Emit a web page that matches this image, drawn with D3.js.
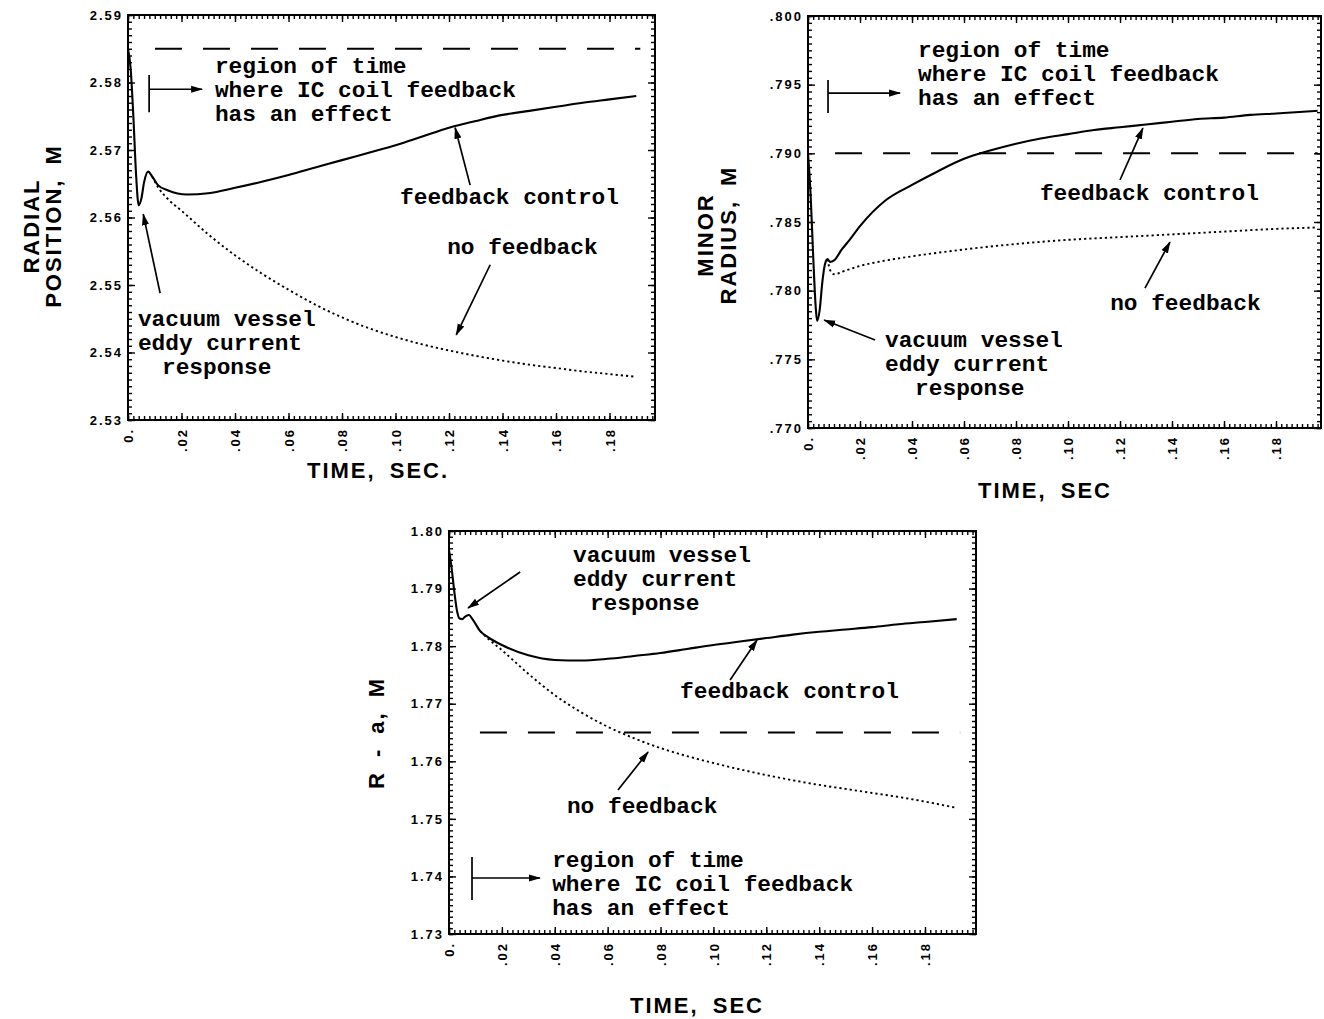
<!DOCTYPE html>
<html>
<head>
<meta charset="utf-8">
<script src="https://cdn.jsdelivr.net/npm/d3@7"></script>
<style>
  body { margin: 0; background: #fff; }
  svg { display: block; }
  .ann { font-family: "Liberation Mono", "Courier New", monospace; font-size: 22.8px; font-weight: bold; fill: #000; }
  .ttl { font-family: "Liberation Sans", Arial, sans-serif; font-weight: bold; font-size: 22px; fill: #000; letter-spacing: 2px; word-spacing: 6px; }
  .tick text { font-family: "Liberation Sans", Arial, sans-serif; font-size: 13px; font-weight: bold; fill: #000; letter-spacing: 2px; }
  .tick line { stroke: #000; stroke-width: 1.4; }
</style>
</head>
<body>
<svg id="chart" width="1324" height="1019"></svg>
<script>
// ---- shared tick labels ----
const xTickValues = [0, 0.02, 0.04, 0.06, 0.08, 0.10, 0.12, 0.14, 0.16, 0.18];
const xTickLabels = ["0.", ".02", ".04", ".06", ".08", ".10", ".12", ".14", ".16", ".18"];

// ---- radial position, M ----
const radialTicks = [2.53, 2.54, 2.55, 2.56, 2.57, 2.58, 2.59];
const radialLabels = ["2.53", "2.54", "2.55", "2.56", "2.57", "2.58", "2.59"];
const radialTarget = 2.585;
const radialFbTime = [0, 0.001, 0.002, 0.003, 0.004, 0.005, 0.006, 0.0075, 0.009, 0.0112, 0.015, 0.022, 0.03, 0.04, 0.05, 0.06, 0.07, 0.08, 0.09, 0.10, 0.11, 0.12, 0.13, 0.14, 0.15, 0.16, 0.17, 0.18, 0.19];
const radialFb = [2.585, 2.582, 2.575, 2.5665, 2.5618, 2.5628, 2.5652, 2.5668, 2.5661, 2.5648, 2.5640, 2.5634, 2.5636, 2.5644, 2.5653, 2.5663, 2.5674, 2.5685, 2.5696, 2.5707, 2.5720, 2.5733, 2.5743, 2.5752, 2.5758, 2.5764, 2.5770, 2.5775, 2.5780];
const radialNoFbTime = [0.009, 0.0112, 0.015, 0.02, 0.03, 0.04, 0.05, 0.06, 0.07, 0.08, 0.09, 0.10, 0.11, 0.12, 0.13, 0.14, 0.15, 0.16, 0.17, 0.18, 0.19];
const radialNoFb = [2.5661, 2.5645, 2.5627, 2.5610, 2.5575, 2.5544, 2.5517, 2.5493, 2.5471, 2.5452, 2.5436, 2.5423, 2.5412, 2.5403, 2.5395, 2.5388, 2.5382, 2.5377, 2.5372, 2.5368, 2.5364];

// ---- minor radius, M ----
const minorTicks = [0.770, 0.775, 0.780, 0.785, 0.790, 0.795, 0.800];
const minorLabels = [".770", ".775", ".780", ".785", ".790", ".795", ".800"];
const minorTarget = 0.790;
const minorFbTime = [0, 0.001, 0.002, 0.003, 0.0035, 0.0045, 0.0055, 0.0065, 0.0075, 0.0085, 0.010, 0.013, 0.016, 0.02, 0.03, 0.04, 0.05, 0.06, 0.07, 0.08, 0.09, 0.10, 0.11, 0.12, 0.13, 0.14, 0.15, 0.16, 0.17, 0.18, 0.196];
const minorFb = [0.7900, 0.7870, 0.7825, 0.7787, 0.7778, 0.7786, 0.7806, 0.7819, 0.7823, 0.7821, 0.7822, 0.7830, 0.7837, 0.7847, 0.7866, 0.7877, 0.7887, 0.7896, 0.7902, 0.7907, 0.7911, 0.7914, 0.7917, 0.7919, 0.7921, 0.7923, 0.7925, 0.7926, 0.7928, 0.7929, 0.7931];
const minorNoFbTime = [0.0075, 0.0085, 0.010, 0.015, 0.02, 0.03, 0.04, 0.06, 0.08, 0.10, 0.12, 0.14, 0.16, 0.18, 0.196];
const minorNoFb = [0.7823, 0.7815, 0.7812, 0.7815, 0.7818, 0.7822, 0.7825, 0.7830, 0.7834, 0.7837, 0.7839, 0.7841, 0.7843, 0.7845, 0.7846];

// ---- R - a, M ----
const innerTicks = [1.73, 1.74, 1.75, 1.76, 1.77, 1.78, 1.79, 1.80];
const innerLabels = ["1.73", "1.74", "1.75", "1.76", "1.77", "1.78", "1.79", "1.80"];
const innerTarget = 1.765;
const innerFbTime = [0, 0.001, 0.002, 0.003, 0.004, 0.005, 0.006, 0.0075, 0.009, 0.0118, 0.015, 0.02, 0.03, 0.04, 0.05, 0.06, 0.07, 0.08, 0.09, 0.10, 0.11, 0.12, 0.13, 0.14, 0.15, 0.16, 0.17, 0.18, 0.192];
const innerFb = [1.7967, 1.7935, 1.7895, 1.7862, 1.7848, 1.7847, 1.7851, 1.7854, 1.7846, 1.7826, 1.7815, 1.7802, 1.7784, 1.7776, 1.7775, 1.7778, 1.7783, 1.7788, 1.7795, 1.7802, 1.7808, 1.7814, 1.7820, 1.7825, 1.7829, 1.7833, 1.7838, 1.7842, 1.7847];
const innerNoFbTime = [0.0118, 0.015, 0.02, 0.03, 0.04, 0.05, 0.06, 0.07, 0.08, 0.09, 0.10, 0.11, 0.12, 0.13, 0.14, 0.15, 0.16, 0.17, 0.18, 0.192];
const innerNoFb = [1.7826, 1.7812, 1.7793, 1.7752, 1.7715, 1.7685, 1.7660, 1.7640, 1.7623, 1.7609, 1.7597, 1.7586, 1.7576, 1.7567, 1.7559, 1.7552, 1.7545, 1.7538, 1.7530, 1.7519];

const zip = (a, b) => a.map((v, i) => [v, b[i]]);
const REGION = ["region of time", "where IC coil feedback", "has an effect"];
const EDDY = ["vacuum vessel", "eddy current", "response"];

const panels = [
  {
    box: { left: 128, top: 15, right: 655, bottom: 420 },
    xMax: 0.197, yDomain: [2.53, 2.59], yStep: 0.01,
    yTicks: radialTicks, yLabels: radialLabels,
    fb: zip(radialFbTime, radialFb), noFb: zip(radialNoFbTime, radialNoFb),
    target: radialTarget, targetSpan: [0.0101, 0.1915],
    yTitle: { lines: ["RADIAL", "POSITION, M"], x: [39, 61], cy: 226 },
    xTitle: { text: "TIME, SEC.", cx: 378, y: 478 },
    texts: [
      { t: 0.0325, v: [2.5814, 2.5779, 2.5743], lines: REGION },
      { t: 0.1017, v: [2.5620], lines: ["feedback control"] },
      { t: 0.1193, v: [2.5546], lines: ["no feedback"] },
      { t: [0.0037, 0.0037, 0.0127], v: [2.5439, 2.5404, 2.5368], lines: EDDY }
    ],
    arrows: [
      [[0.1279, 2.5648], [0.1223, 2.5733]],
      [[0.1354, 2.5530], [0.1227, 2.5426]],
      [[0.0120, 2.5488], [0.0057, 2.5605]]
    ],
    region: { t0: 0.0079, t1: 0.0277, vTop: 2.5811, vBot: 2.5756, vArrow: 2.5790 }
  },
  {
    box: { left: 808, top: 16, right: 1321, bottom: 428 },
    xMax: 0.1973, yDomain: [0.770, 0.800], yStep: 0.005,
    yTicks: minorTicks, yLabels: minorLabels,
    fb: zip(minorFbTime, minorFb), noFb: zip(minorNoFbTime, minorNoFb),
    target: minorTarget, targetSpan: [0.0104, 0.196],
    yTitle: { lines: ["MINOR", "RADIUS, M"], x: [713, 736], cy: 235 },
    xTitle: { text: "TIME, SEC", cx: 1045, y: 498 },
    texts: [
      { t: 0.0423, v: [0.79701, 0.79527, 0.79352], lines: REGION },
      { t: 0.0892, v: [0.78660], lines: ["feedback control"] },
      { t: 0.1162, v: [0.77859], lines: ["no feedback"] },
      { t: [0.0296, 0.0296, 0.0412], v: [0.77590, 0.77415, 0.77240], lines: EDDY }
    ],
    arrows: [
      [[0.1200, 0.78806], [0.1288, 0.79184]],
      [[0.1296, 0.78019], [0.1392, 0.78354]],
      [[0.0258, 0.77641], [0.0062, 0.77786]]
    ],
    region: { t0: 0.0077, t1: 0.0354, vTop: 0.79534, vBot: 0.79294, vArrow: 0.79439 }
  },
  {
    box: { left: 449, top: 531, right: 976, bottom: 934 },
    xMax: 0.1993, yDomain: [1.73, 1.80], yStep: 0.01,
    yTicks: innerTicks, yLabels: innerLabels,
    fb: zip(innerFbTime, innerFb), noFb: zip(innerNoFbTime, innerNoFb),
    target: innerTarget, targetSpan: [0.0117, 0.1933],
    yTitle: { lines: ["R - a, M"], x: [384], cy: 733 },
    xTitle: { text: "TIME, SEC", cx: 697, y: 1013 },
    texts: [
      { t: 0.0390, v: [1.74164, 1.73747, 1.73330], lines: REGION },
      { t: [0.0469, 0.0469, 0.0533], v: [1.79462, 1.79045, 1.78628], lines: EDDY },
      { t: 0.0874, v: [1.77099], lines: ["feedback control"] },
      { t: 0.0446, v: [1.75102], lines: ["no feedback"] }
    ],
    arrows: [
      [[0.0269, 1.79288], [0.0072, 1.78663]],
      [[0.1063, 1.77412], [0.1165, 1.78107]],
      [[0.0639, 1.75501], [0.0753, 1.76161]]
    ],
    region: { t0: 0.0087, t1: 0.0344, vTop: 1.74337, vBot: 1.73590, vArrow: 1.73973 }
  }
];

const svg = d3.select("#chart");

// arrowhead used by every pointer
svg.append("defs").append("marker")
  .attr("id", "head").attr("viewBox", "0 -5 12 10")
  .attr("refX", 11).attr("refY", 0)
  .attr("markerWidth", 12).attr("markerHeight", 10)
  .attr("markerUnits", "userSpaceOnUse").attr("orient", "auto")
  .append("path").attr("d", "M0,-3.6L12,0L0,3.6Z").attr("fill", "#000");

function drawPanel(p) {
  const w = p.box.right - p.box.left, h = p.box.bottom - p.box.top;
  const g = svg.append("g").attr("transform", `translate(${p.box.left},${p.box.top})`);
  const x = d3.scaleLinear().domain([0, p.xMax]).range([0, w]);
  const y = d3.scaleLinear().domain(p.yDomain).range([h, 0]);

  const xMinor = d3.range(0, Math.floor(p.xMax / 0.002) + 1).map(i => i * 0.002);
  const nY = Math.round((p.yDomain[1] - p.yDomain[0]) / (p.yStep / 10));
  const yMinor = d3.range(0, nY + 1).map(i => p.yDomain[0] + i * p.yStep / 10);

  const addAxis = (axis, tr) => {
    const a = g.append("g").attr("transform", tr).call(axis);
    a.select(".domain").remove();
    return a;
  };
  // minor ticks on all four sides, pointing inward
  addAxis(d3.axisBottom(x).tickValues(xMinor).tickSizeInner(-4).tickSizeOuter(0).tickFormat(""), `translate(0,${h})`);
  addAxis(d3.axisTop(x).tickValues(xMinor).tickSizeInner(-4).tickSizeOuter(0).tickFormat(""), "translate(0,0)");
  addAxis(d3.axisLeft(y).tickValues(yMinor).tickSizeInner(-4).tickSizeOuter(0).tickFormat(""), "translate(0,0)");
  addAxis(d3.axisRight(y).tickValues(yMinor).tickSizeInner(-4).tickSizeOuter(0).tickFormat(""), `translate(${w},0)`);
  // major ticks
  addAxis(d3.axisTop(x).tickValues(xTickValues).tickSizeInner(-7).tickSizeOuter(0).tickFormat(""), "translate(0,0)");
  addAxis(d3.axisRight(y).tickValues(p.yTicks).tickSizeInner(-7).tickSizeOuter(0).tickFormat(""), `translate(${w},0)`);
  const bx = addAxis(d3.axisBottom(x).tickValues(xTickValues).tickSizeInner(-7).tickSizeOuter(0)
    .tickFormat((d, i) => xTickLabels[i]), `translate(0,${h})`);
  bx.selectAll("text")
    .attr("transform", "rotate(-90)")
    .attr("x", -8).attr("y", 0).attr("dy", "0.36em")
    .style("text-anchor", "end");
  const ly = addAxis(d3.axisLeft(y).tickValues(p.yTicks).tickSizeInner(-7).tickSizeOuter(0).tickPadding(5)
    .tickFormat((d, i) => p.yLabels[i]), "translate(0,0)");
  ly.selectAll("text").attr("x", -5);

  // frame
  g.append("rect").attr("width", w).attr("height", h)
    .attr("fill", "none").attr("stroke", "#000").attr("stroke-width", 2);

  // reference level
  g.append("line")
    .attr("x1", x(p.targetSpan[0])).attr("x2", x(p.targetSpan[1]))
    .attr("y1", y(p.target)).attr("y2", y(p.target))
    .attr("stroke", "#000").attr("stroke-width", 2).attr("stroke-dasharray", "27,21");

  const line = d3.line().x(d => x(d[0])).y(d => y(d[1])).curve(d3.curveMonotoneX);
  g.append("path").datum(p.noFb).attr("d", line)
    .attr("fill", "none").attr("stroke", "#000").attr("stroke-width", 1.9)
    .attr("stroke-dasharray", "2.2,3");
  g.append("path").datum(p.fb).attr("d", line)
    .attr("fill", "none").attr("stroke", "#000").attr("stroke-width", 2.1);

  // annotation text
  p.texts.forEach(tb => {
    tb.lines.forEach((s, i) => {
      const t = Array.isArray(tb.t) ? tb.t[i] : tb.t;
      g.append("text").attr("class", "ann")
        .attr("x", x(t)).attr("y", y(tb.v[i])).text(s);
    });
  });

  // pointers
  p.arrows.forEach(a => {
    g.append("line")
      .attr("x1", x(a[0][0])).attr("y1", y(a[0][1]))
      .attr("x2", x(a[1][0])).attr("y2", y(a[1][1]))
      .attr("stroke", "#000").attr("stroke-width", 1.7)
      .attr("marker-end", "url(#head)");
  });

  // feedback-region marker
  const r = p.region;
  g.append("line").attr("x1", x(r.t0)).attr("x2", x(r.t0))
    .attr("y1", y(r.vTop)).attr("y2", y(r.vBot))
    .attr("stroke", "#000").attr("stroke-width", 1.7);
  g.append("line").attr("x1", x(r.t0)).attr("x2", x(r.t1))
    .attr("y1", y(r.vArrow)).attr("y2", y(r.vArrow))
    .attr("stroke", "#000").attr("stroke-width", 1.7)
    .attr("marker-end", "url(#head)");

  // axis titles
  p.yTitle.lines.forEach((s, i) => {
    svg.append("text").attr("class", "ttl")
      .attr("transform", `translate(${p.yTitle.x[i]},${p.yTitle.cy}) rotate(-90)`)
      .attr("text-anchor", "middle").text(s);
  });
  svg.append("text").attr("class", "ttl")
    .attr("x", p.xTitle.cx).attr("y", p.xTitle.y)
    .attr("text-anchor", "middle").text(p.xTitle.text);
}

panels.forEach(drawPanel);
</script>
</body>
</html>
